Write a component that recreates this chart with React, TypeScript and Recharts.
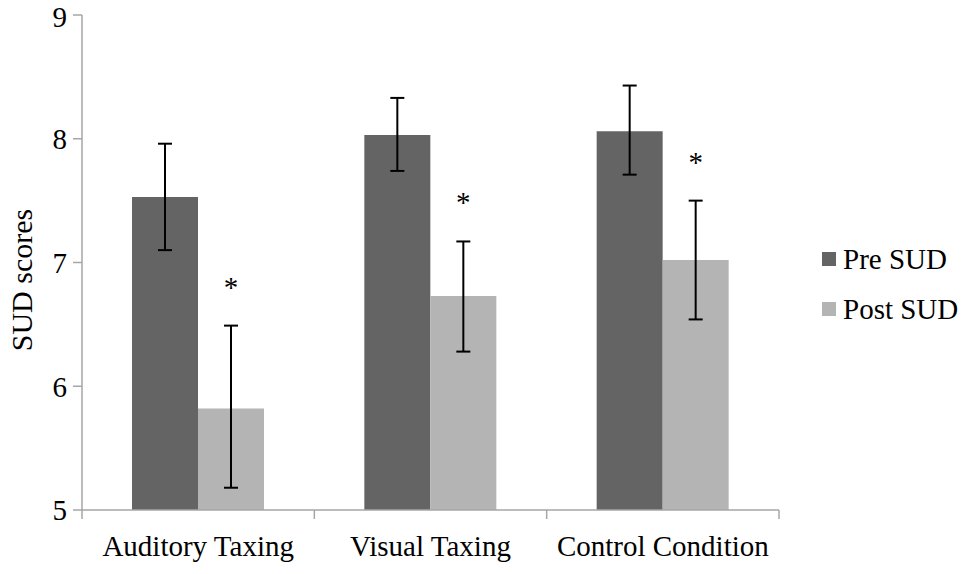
import { ComposedChart, Bar, XAxis, YAxis, ErrorBar, Legend, LabelList } from "recharts";

const categories = ["Auditory Taxing", "Visual Taxing", "Control Condition"];
const seriesNames = ["Pre SUD", "Post SUD"];
const preMean = [7.53, 8.03, 8.06];
const preLow = [7.10, 7.74, 7.71];
const preHigh = [7.96, 8.33, 8.43];
const postMean = [5.82, 6.73, 7.02];
const postLow = [5.18, 6.28, 6.54];
const postHigh = [6.49, 7.17, 7.50];
const significant = [true, true, true];
const yTicks = [5, 6, 7, 8, 9];

const FONT = "Liberation Serif";
const AXIS = "#a6a6a6";
const PRE = "#646464";
const POST = "#b4b4b4";
const seriesColors = [PRE, POST];

const data = categories.map((name, i) => ({
  name,
  pre: preMean[i],
  post: postMean[i],
  preErr: [preMean[i] - preLow[i], preHigh[i] - preMean[i]],
  postErr: [postMean[i] - postLow[i], postHigh[i] - postMean[i]],
}));

// category labels centred, tick marks on the category boundaries (Excel style)
const CategoryTick = (props: any) => {
  const { x, y, payload, index } = props;
  const half = payload?.offset || 116;
  const axisY = y - 25;
  return (
    <g>
      <line x1={x - half} y1={axisY} x2={x - half} y2={axisY + 9} stroke={AXIS} strokeWidth={1.5} />
      {index === categories.length - 1 && (
        <line x1={x + half} y1={axisY} x2={x + half} y2={axisY + 9} stroke={AXIS} strokeWidth={1.5} />
      )}
      <text x={x} y={y} dy="0.71em" textAnchor="middle" fontSize={29} fill="#000" fontFamily={FONT}>
        {payload.value}
      </text>
    </g>
  );
};

// significance asterisk above the post-bar error bar
const Star = (props: any) => {
  const { index } = props;
  const vb = props.viewBox || {};
  const x = props.x ?? vb.x;
  const y = props.y ?? vb.y;
  const width = props.width ?? vb.width;
  const height = props.height ?? vb.height;
  if (!significant[index]) return null;
  const pxPerUnit = height / (postMean[index] - 5);
  const errTop = y - (postHigh[index] - postMean[index]) * pxPerUnit;
  return (
    <text x={x + width / 2} y={errTop - 29} textAnchor="middle" fontSize={29} fill="#000" fontFamily={FONT}>
      *
    </text>
  );
};

const LegendContent = () => (
  <div style={{ fontFamily: FONT, fontSize: 29, color: "#000" }}>
    {seriesNames.map((name, i) => (
      <div key={name} style={{ display: "flex", alignItems: "center", height: 50, lineHeight: "50px" }}>
        <span style={{ display: "inline-block", width: 14, height: 14, background: seriesColors[i], marginRight: 7 }} />
        <span>{name}</span>
      </div>
    ))}
  </div>
);

export default function App() {
  return (
    <div style={{ position: "absolute", left: 0, top: 0, width: 970, height: 574, background: "#fff" }}>
      <ComposedChart
        width={970}
        height={574}
        data={data}
        margin={{ top: 15, right: 191, bottom: 0, left: 30 }}
        barGap={0}
      >
        <XAxis
          dataKey="name"
          height={64}
          stroke={AXIS}
          strokeWidth={1.5}
          tickLine={false}
          tickSize={9}
          tickMargin={16}
          interval={0}
          tick={<CategoryTick />}
        />
        <YAxis
          domain={[5, 9]}
          ticks={yTicks}
          width={52}
          stroke={AXIS}
          strokeWidth={1.5}
          tickSize={9}
          tickMargin={6}
          tick={{ fontSize: 29, fill: "#000", fontFamily: FONT }}
        />
        <text
          x={32}
          y={280}
          transform="rotate(-90 32 280)"
          textAnchor="middle"
          fontSize={30}
          fill="#000"
          fontFamily={FONT}
        >
          SUD scores
        </text>
        <Legend
          layout="vertical"
          align="center"
          verticalAlign="middle"
          wrapperStyle={{ left: 822, top: 234, width: 148 }}
          content={<LegendContent />}
        />
        <Bar dataKey="pre" name={seriesNames[0]} fill={PRE} barSize={66} isAnimationActive={false}>
          <ErrorBar dataKey="preErr" width={7} strokeWidth={2} stroke="#000" direction="y" />
        </Bar>
        <Bar dataKey="post" name={seriesNames[1]} fill={POST} barSize={66} isAnimationActive={false}>
          <ErrorBar dataKey="postErr" width={7} strokeWidth={2} stroke="#000" direction="y" />
          <LabelList dataKey="post" content={<Star />} />
        </Bar>
      </ComposedChart>
    </div>
  );
}
